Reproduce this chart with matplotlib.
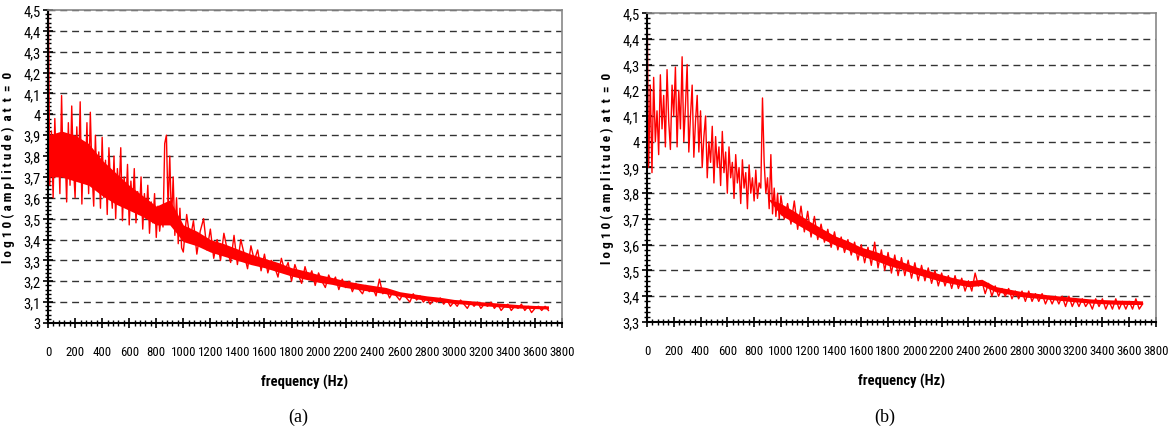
import matplotlib
matplotlib.use('Agg')
import matplotlib.pyplot as plt
import numpy as np
from matplotlib import font_manager
from matplotlib.ticker import MultipleLocator, FuncFormatter

# frequency grid (Hz): trace read every 12.5 Hz below 1000 Hz, every 25 Hz above;
# the solid centre of the band is read every 100 Hz
freq = np.concatenate([np.arange(0, 1000, 12.5), np.arange(1000, 3701, 25)])
freq_core = np.arange(0, 3701, 100)

# trace
amp_a = [
    # 0 - 987.5 Hz
    4.70, 3.66, 3.92, 3.60, 3.98, 3.72, 3.88, 3.62,
    4.09, 3.70, 3.84, 3.58, 3.96, 3.66, 4.04, 3.75,
    3.60, 3.94, 3.70, 4.06, 3.57, 3.86, 3.68, 3.96,
    3.62, 4.01, 3.72, 3.56, 3.90, 3.64, 3.82, 3.55,
    3.89, 3.60, 3.78, 3.52, 3.84, 3.66, 3.55, 3.80,
    3.50, 3.74, 3.62, 3.84, 3.49, 3.70, 3.56, 3.76,
    3.47, 3.68, 3.55, 3.74, 3.48, 3.63, 3.52, 3.70,
    3.45, 3.62, 3.50, 3.66, 3.43, 3.58, 3.48, 3.62,
    3.41, 3.56, 3.44, 3.52, 3.46, 3.86, 3.90, 3.55,
    3.80, 3.48, 3.70, 3.42, 3.60, 3.38, 3.55, 3.36,
    # 1000 - 3700 Hz
    3.34, 3.52, 3.40, 3.49, 3.33, 3.44, 3.50, 3.35,
    3.45, 3.31, 3.40, 3.30, 3.43, 3.35, 3.29, 3.42,
    3.28, 3.40, 3.33, 3.26, 3.37, 3.30, 3.35, 3.25,
    3.33, 3.24, 3.30, 3.27, 3.22, 3.31, 3.25, 3.29,
    3.20, 3.28, 3.23, 3.19, 3.27, 3.21, 3.25, 3.18,
    3.24, 3.20, 3.17, 3.23, 3.19, 3.22, 3.16, 3.21,
    3.17, 3.20, 3.15, 3.19, 3.16, 3.14, 3.18, 3.15,
    3.17, 3.13, 3.21, 3.14, 3.16, 3.12, 3.15, 3.13,
    3.11, 3.14, 3.12, 3.10, 3.14, 3.11, 3.13, 3.10,
    3.12, 3.09, 3.11, 3.10, 3.12, 3.09, 3.11, 3.08,
    3.10, 3.08, 3.11, 3.09, 3.07, 3.10, 3.08, 3.10,
    3.07, 3.09, 3.08, 3.10, 3.07, 3.09, 3.06, 3.08,
    3.09, 3.06, 3.08, 3.07, 3.09, 3.06, 3.08, 3.05,
    3.07, 3.08, 3.06, 3.08, 3.06,
]
core_lo_a = [3.70, 3.70, 3.68, 3.66, 3.61, 3.57, 3.54, 3.51, 3.47, 3.47,
             3.39, 3.37, 3.34, 3.32, 3.30, 3.28, 3.265, 3.245, 3.225, 3.21,
             3.195, 3.185, 3.17, 3.16, 3.15, 3.14, 3.128, 3.118, 3.108, 3.102,
             3.094, 3.089, 3.084, 3.079, 3.074, 3.071, 3.069, 3.067]
core_hi_a = [3.90, 3.92, 3.90, 3.86, 3.78, 3.72, 3.66, 3.61, 3.56, 3.59,
             3.47, 3.44, 3.40, 3.38, 3.355, 3.33, 3.31, 3.29, 3.265, 3.25,
             3.232, 3.218, 3.202, 3.19, 3.18, 3.17, 3.15, 3.14, 3.13, 3.123,
             3.113, 3.108, 3.102, 3.097, 3.092, 3.087, 3.084, 3.082]

# trace
amp_b = [
    # 0 - 987.5 Hz
    4.60, 3.90, 4.22, 3.88, 4.25, 4.00, 4.12, 3.95,
    4.26, 4.05, 4.18, 3.98, 4.28, 4.08, 3.97, 4.22,
    4.10, 4.29, 3.98, 4.20, 4.05, 4.33, 4.00, 4.14,
    4.30, 3.96, 4.10, 4.22, 3.94, 4.08, 4.18, 3.96,
    4.12, 3.90, 4.02, 4.10, 3.86, 4.00, 3.92, 4.06,
    3.84, 4.02, 3.90, 3.98, 3.83, 4.04, 3.88, 3.96,
    3.80, 3.98, 3.86, 3.92, 3.78, 3.95, 3.84, 3.90,
    3.76, 3.93, 3.82, 3.88, 3.74, 3.91, 3.80, 3.86,
    3.77, 3.89, 3.78, 3.84, 3.82, 4.17, 3.92, 3.80,
    3.86, 3.74, 3.95, 3.72, 3.82, 3.71, 3.80, 3.70,
    # 1000 - 3700 Hz
    3.79, 3.70, 3.76, 3.68, 3.77, 3.66, 3.75, 3.65,
    3.73, 3.63, 3.71, 3.62, 3.68, 3.61, 3.66, 3.59,
    3.65, 3.58, 3.63, 3.57, 3.62, 3.56, 3.61, 3.54,
    3.60, 3.53, 3.59, 3.52, 3.61, 3.51, 3.58, 3.50,
    3.57, 3.49, 3.56, 3.48, 3.55, 3.48, 3.54, 3.47,
    3.53, 3.46, 3.52, 3.46, 3.51, 3.45, 3.50, 3.44,
    3.49, 3.44, 3.48, 3.43, 3.48, 3.43, 3.47, 3.42,
    3.46, 3.42, 3.49, 3.44, 3.46, 3.41, 3.45, 3.40,
    3.44, 3.40, 3.43, 3.40, 3.43, 3.39, 3.42, 3.39,
    3.42, 3.38, 3.42, 3.38, 3.41, 3.38, 3.41, 3.37,
    3.40, 3.37, 3.40, 3.37, 3.40, 3.36, 3.40, 3.36,
    3.39, 3.36, 3.39, 3.36, 3.38, 3.35, 3.39, 3.36,
    3.39, 3.35, 3.38, 3.35, 3.39, 3.35, 3.38, 3.35,
    3.38, 3.35, 3.39, 3.35, 3.37,
]
# below ~900 Hz panel (b) shows separate spikes only, so the core has no height there
core_lo_b = [4.10, 4.12, 4.12, 4.08, 4.00, 3.95, 3.90, 3.86, 3.83, 3.78,
             3.715, 3.685, 3.655, 3.625, 3.60, 3.58, 3.557, 3.54, 3.52, 3.505,
             3.487, 3.472, 3.457, 3.447, 3.437, 3.442, 3.418, 3.408, 3.398, 3.393,
             3.388, 3.383, 3.378, 3.374, 3.371, 3.369, 3.368, 3.368]
core_hi_b = [4.10, 4.12, 4.12, 4.08, 4.00, 3.95, 3.90, 3.86, 3.83, 3.78,
             3.76, 3.73, 3.695, 3.665, 3.635, 3.615, 3.59, 3.575, 3.555, 3.535,
             3.515, 3.50, 3.484, 3.47, 3.46, 3.466, 3.438, 3.428, 3.418, 3.412,
             3.405, 3.40, 3.395, 3.39, 3.387, 3.385, 3.384, 3.382]

# pick a narrow face if one is installed, otherwise a smaller regular one
names = sorted({f.name for f in font_manager.fontManager.ttflist})
narrow_name = None
for cand in ['Liberation Sans Narrow', 'Arial Narrow', 'DejaVu Sans Condensed',
             'Noto Sans Condensed', 'Roboto Condensed', 'Open Sans Condensed']:
    if cand in names:
        narrow_name = cand
        break
if narrow_name is None:
    for n in names:
        if 'Narrow' in n or 'Condensed' in n:
            narrow_name = n
            break
if narrow_name:
    tick_font = [narrow_name, 'DejaVu Sans']
    xtick_size, ytick_size, label_size = 9.3, 10.5, 10.5
else:
    tick_font = ['Liberation Sans', 'DejaVu Sans']
    xtick_size, ytick_size, label_size = 7.6, 9.5, 9.5

ylabel_text = 'l o g 1 0 ( a m p l i t u d e )  a t  t  =  0'


def comma_fmt(v, _):
    return f'{round(v, 1):g}'.replace('.', ',')


def draw_panel(ax, amp, lo, hi, ymin, caption, cap_x):
    ax.fill_between(freq_core, lo, hi, color='#ff0000', linewidth=0)
    ax.plot(freq, amp, color='#ff0000', linewidth=1.0)
    ax.set_xlim(0, 3800)
    ax.set_ylim(ymin, 4.5)
    ax.xaxis.set_major_locator(MultipleLocator(200))
    ax.xaxis.set_minor_locator(MultipleLocator(40))
    ax.yaxis.set_major_locator(MultipleLocator(0.1))
    ax.yaxis.set_minor_locator(MultipleLocator(0.02))
    ax.yaxis.set_major_formatter(FuncFormatter(comma_fmt))
    ax.grid(axis='y', which='major', color='#333333', linestyle=(0, (5, 3.5)), linewidth=1.0)
    ax.set_axisbelow(True)
    ax.tick_params(which='major', direction='inout', length=7, width=1.2)
    ax.tick_params(which='minor', direction='inout', length=4, width=1.0)
    ax.tick_params(axis='x', which='major', pad=12, labelsize=xtick_size)
    ax.tick_params(axis='y', which='major', pad=2, labelsize=ytick_size)
    for lbl in ax.get_xticklabels() + ax.get_yticklabels():
        lbl.set_family(tick_font)
    for side in ('top', 'right'):
        ax.spines[side].set_color('#888888')
        ax.spines[side].set_linewidth(1.2)
    for side in ('left', 'bottom'):
        ax.spines[side].set_color('black')
        ax.spines[side].set_linewidth(1.5)
    ax.set_xlabel('frequency (Hz)', family=tick_font, fontsize=label_size,
                  fontweight='bold', labelpad=12)
    ax.set_ylabel(ylabel_text, family=tick_font, fontsize=9.5, fontweight='bold', labelpad=6)
    fig.text(cap_x, 0.04, caption, ha='center', va='center',
             family=['Liberation Serif', 'DejaVu Serif'], fontsize=13)


fig = plt.figure(figsize=(11.75, 4.35), dpi=100)
ax1 = fig.add_axes([0.0409, 0.2552, 0.4374, 0.7195])
ax2 = fig.add_axes([0.5506, 0.2575, 0.4332, 0.7103])

draw_panel(ax1, amp_a, core_lo_a, core_hi_a, 3.0, '(a)', 0.2536)
draw_panel(ax2, amp_b, core_lo_b, core_hi_b, 3.3, '(b)', 0.7532)

plt.savefig('out.png', dpi=100)
plt.close()
